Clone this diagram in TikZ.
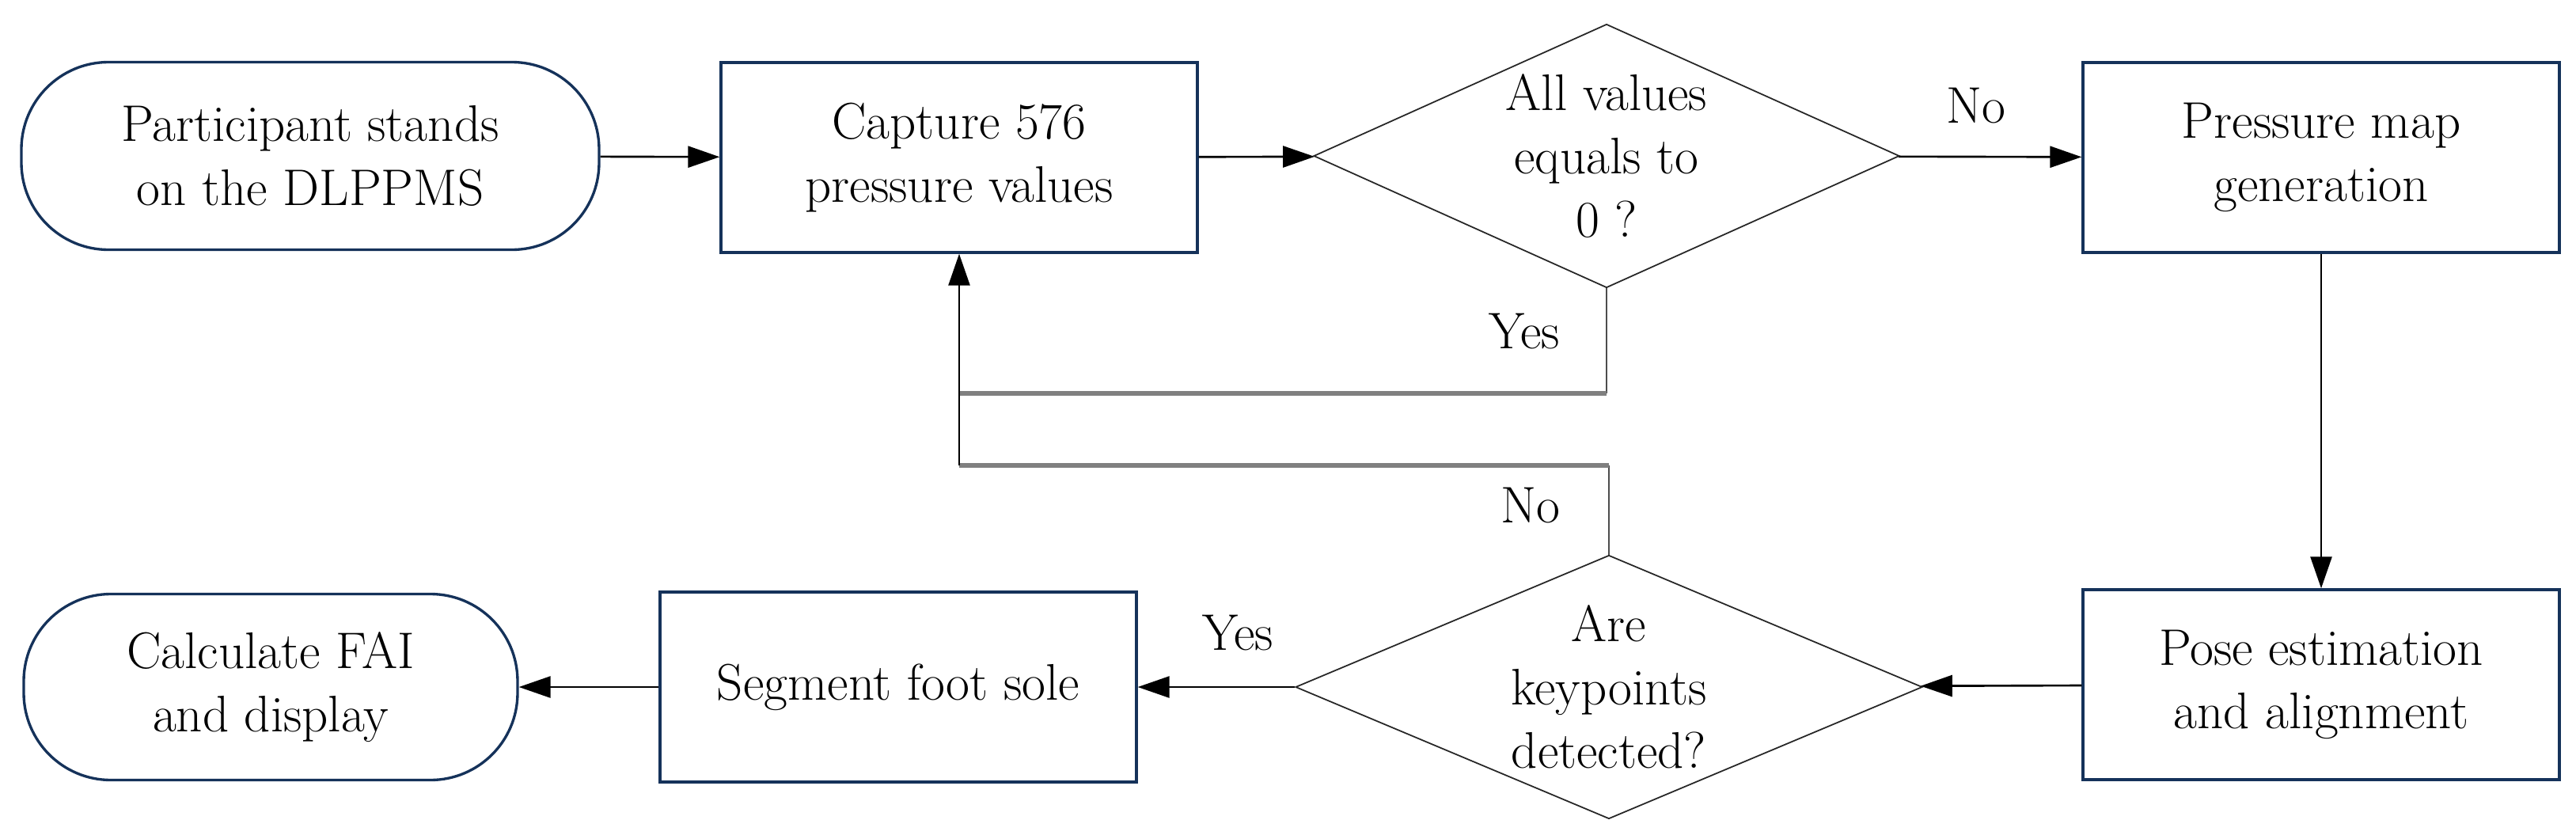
\documentclass[tikz,border=0pt]{standalone}
\usepackage{tikz}
\usetikzlibrary{arrows.meta,shapes.geometric}
\definecolor{boxblue}{HTML}{15325A}
\tikzset{
  every node/.style={font=\fontsize{18.5}{22.8}\selectfont},
  process/.style={draw=boxblue, line width=0.95pt, minimum width=6.02cm, minimum height=2.4cm, align=center},
  terminal/.style={process, rounded corners=1.1cm},
  decision/.style={diamond, draw=black!85, line width=0.5pt, inner sep=0pt, minimum width=7.4cm, minimum height=3.33cm},
  flow/.style={line width=0.75pt, -{Triangle[length=0.4cm,width=0.27cm]}},
  loopdrop/.style={draw=black!70, line width=0.55pt},
  loopline/.style={draw=black!50, line width=1.9pt},
}

\begin{document}
\begin{tikzpicture}
		%%%%% START %%%%%
		\useasboundingbox (0,0) rectangle (32.55,-10.59);
		
		% top row
		\node[terminal, minimum width=7.3cm, minimum height=2.37cm] (start) at (3.92,-1.97) {Participant stands\\on the DLPPMS};
		\node[process] (capture) at (12.12,-1.99) {Capture 576\\pressure values};
		\node[decision] (test) at (20.30,-1.97) {};
		\node[align=center] (testtxt) at (test) {All values\\equals to\\0 ?};
		\node[process] (pressure) at (29.33,-1.99) {Pressure map\\generation};
		
		% bottom row
		\node[process] (pose) at (29.33,-8.65) {Pose estimation\\and alignment};
		\node[decision, minimum width=7.92cm] (check) at (20.33,-8.68) {};
		\node[align=center] (checktxt) at (check) {Are\\keypoints\\detected?};
		\node[process] (segment) at (11.35,-8.68) {Segment foot sole};
		\node[terminal, minimum width=6.24cm, minimum height=2.35cm] (finish) at (3.42,-8.68) {Calculate FAI\\and display};
		
		% answers
		\node (testno) at (24.97,-1.34) {No};
		\node (testyes) at (19.26,-4.19) {Yes};
		\node (checkno) at (19.34,-6.39) {No};
		\node (checkyes) at (15.64,-8.0) {Yes};
		
		% arrows
		\draw[flow] (start) -- (capture);
		\draw[flow] (capture) -- (test);
		\draw[flow] (test) -- (pressure);
		\draw[flow] (pressure) -- (pose);
		\draw[flow] (pose) -- (check);
		\draw[flow] (check) -- (segment);
		\draw[flow] (segment) -- (finish);
		
		% back to capture
		\coordinate (yesturn) at (12.12,-4.97);
		\coordinate (noturn) at (12.12,-5.88);
		\draw[loopdrop] (test.south) -- (test.south |- yesturn);
		\draw[loopline] (test.south |- yesturn) -- (yesturn);
		\draw[loopdrop] (check.north) -- (check.north |- noturn);
		\draw[loopline] (check.north |- noturn) -- (noturn);
		\draw[flow] (noturn) -- (capture.south);
		
		%%%%% END %%%%%
\end{tikzpicture}
\end{document}
